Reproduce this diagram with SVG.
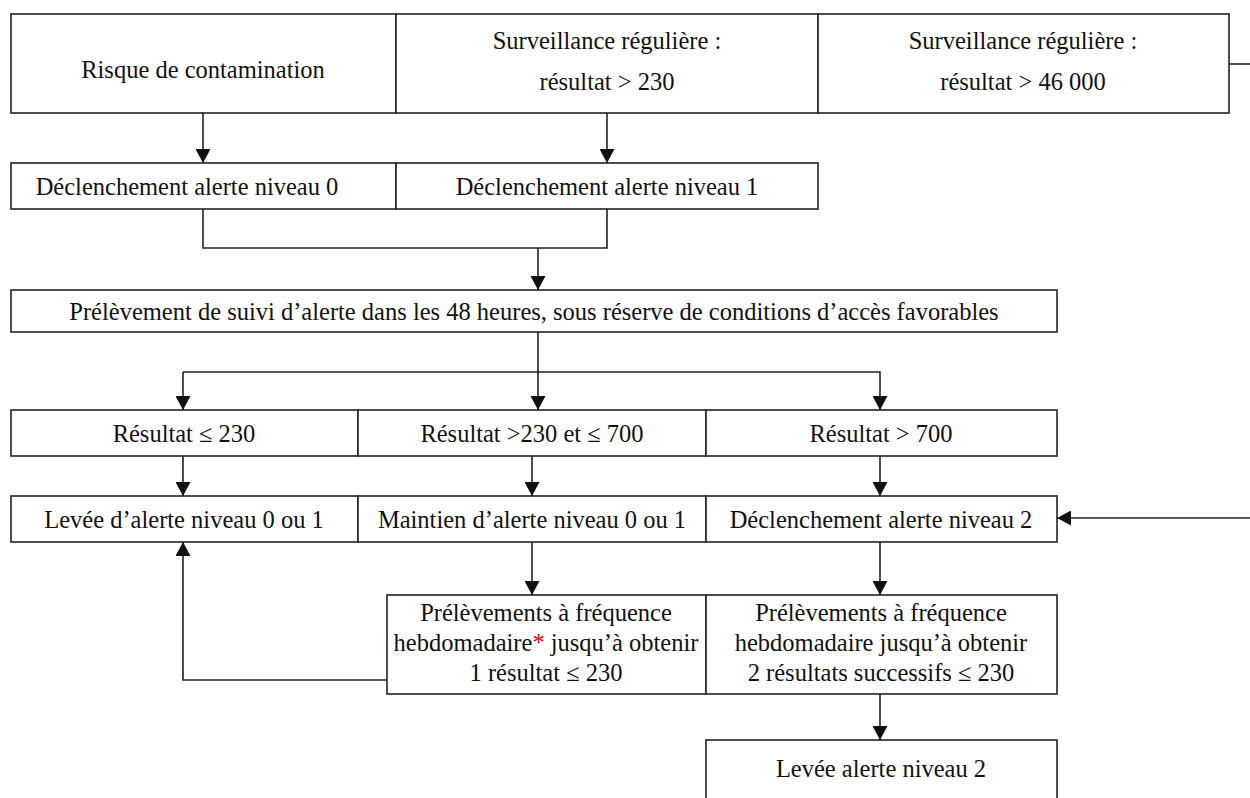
<svg xmlns="http://www.w3.org/2000/svg" width="1250" height="798" viewBox="0 0 1250 798">
<defs>
<marker id="ah" viewBox="0 0 14 15" refX="14" refY="7.5" markerWidth="14" markerHeight="15" markerUnits="userSpaceOnUse" orient="auto"><path d="M0,0 L14,7.5 L0,15 Z" fill="#111"/></marker>
<style>
rect{fill:#fff;stroke:#222;stroke-width:1.6}
text{font-family:"Liberation Serif","Times New Roman",serif;font-size:24.5px;fill:#111;text-anchor:middle}
.c{fill:none;stroke:#222;stroke-width:1.6}
.a{marker-end:url(#ah)}
</style>
</defs>
<rect x="0" y="0" width="1250" height="798" style="fill:#fff;stroke:none"/>
<g id="connectors">
<path class="c a" d="M203,113 V163"/>
<path class="c a" d="M607,113 V163"/>
<path class="c" d="M203,209 V248 H607 V209"/>
<path class="c a" d="M538,248 V290"/>
<path class="c" d="M538,332 V372"/>
<path class="c a" d="M183,372 V410"/>
<path class="c a" d="M538,372 V410"/>
<path class="c a" d="M183,372 H880 V410"/>
<path class="c a" d="M183,456 V496"/>
<path class="c a" d="M532,456 V496"/>
<path class="c a" d="M880,456 V496"/>
<path class="c" d="M1229,64 H1250"/>
<path class="c a" d="M1250,518 H1057"/>
<path class="c a" d="M532,542 V595"/>
<path class="c a" d="M880,542 V595"/>
<path class="c a" d="M387,680 H183 V542"/>
<path class="c a" d="M880,694 V740"/>
</g>
<g id="n-risque"><rect x="11" y="14" width="385" height="99"/><text x="203" y="78">Risque de contamination</text></g>
<g id="n-surv230"><rect x="396" y="14" width="422" height="99"/><text x="607" y="49">Surveillance régulière :</text><text x="607" y="90">résultat &gt; 230</text></g>
<g id="n-surv46000"><rect x="818" y="14" width="411" height="99"/><text x="1023" y="49">Surveillance régulière :</text><text x="1023" y="90">résultat &gt; 46 000</text></g>
<g id="n-decl0"><rect x="11" y="163" width="385" height="46"/><text x="187" y="195">Déclenchement alerte niveau 0</text></g>
<g id="n-decl1"><rect x="396" y="163" width="422" height="46"/><text x="607" y="195">Déclenchement alerte niveau 1</text></g>
<g id="n-prelev"><rect x="11" y="290" width="1046" height="42"/><text x="534" y="320">Prélèvement de suivi d’alerte dans les 48 heures, sous réserve de conditions d’accès favorables</text></g>
<g id="n-res1"><rect x="11" y="410" width="347" height="46"/><text x="184" y="442">Résultat ≤ 230</text></g>
<g id="n-res2"><rect x="358" y="410" width="348" height="46"/><text x="532" y="442">Résultat &gt;230 et ≤ 700</text></g>
<g id="n-res3"><rect x="706" y="410" width="351" height="46"/><text x="881" y="442">Résultat &gt; 700</text></g>
<g id="n-levee01"><rect x="11" y="496" width="347" height="46"/><text x="184" y="528">Levée d’alerte niveau 0 ou 1</text></g>
<g id="n-maintien"><rect x="358" y="496" width="348" height="46"/><text x="532" y="528">Maintien d’alerte niveau 0 ou 1</text></g>
<g id="n-decl2"><rect x="706" y="496" width="351" height="46"/><text x="881" y="528">Déclenchement alerte niveau 2</text></g>
<g id="n-hebdo1"><rect x="387" y="595" width="319" height="99"/><text x="546" y="621">Prélèvements à fréquence</text><text x="546" y="651">hebdomadaire<tspan fill="#e00000">*</tspan> jusqu’à obtenir</text><text x="546" y="681">1 résultat ≤ 230</text></g>
<g id="n-hebdo2"><rect x="706" y="595" width="351" height="99"/><text x="881" y="621">Prélèvements à fréquence</text><text x="881" y="651">hebdomadaire jusqu’à obtenir</text><text x="881" y="681">2 résultats successifs ≤ 230</text></g>
<g id="n-levee2"><rect x="706" y="740" width="351" height="80"/><text x="881" y="777">Levée alerte niveau 2</text></g>
</svg>
